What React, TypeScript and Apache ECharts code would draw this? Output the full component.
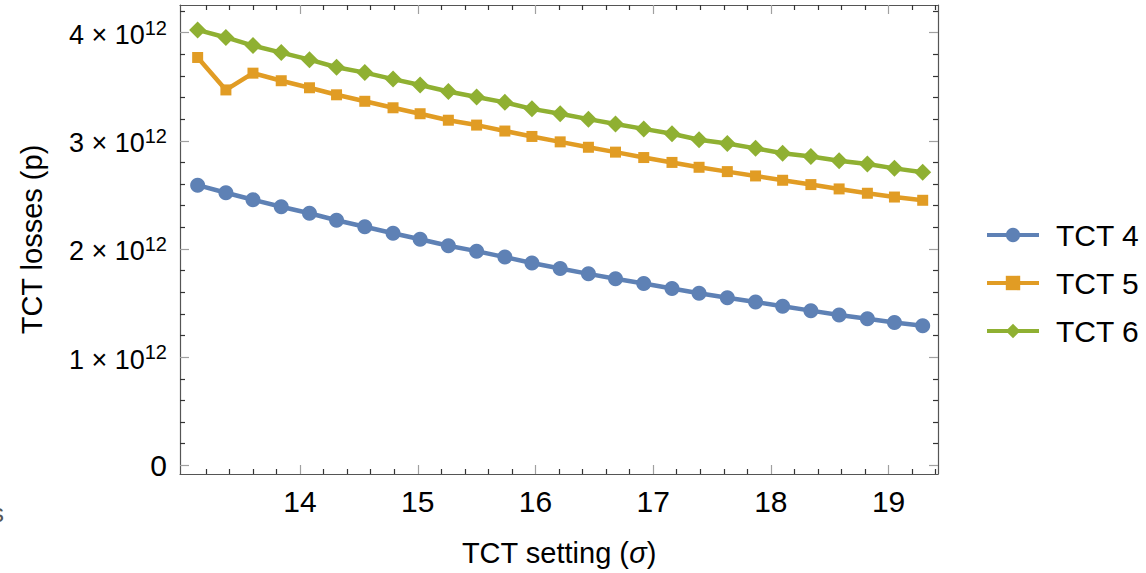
import React, { useEffect, useRef } from "react";
import * as echarts from "echarts";

const xValues = [13.13, 13.37, 13.6, 13.84, 14.08, 14.31, 14.55, 14.79, 15.02, 15.26, 15.5, 15.74, 15.97, 16.21, 16.45, 16.68, 16.92, 17.16, 17.39, 17.63, 17.87, 18.1, 18.34, 18.58, 18.82, 19.05, 19.29];
const tct4 = [2.59e12, 2.52e12, 2.455e12, 2.39e12, 2.33e12, 2.265e12, 2.205e12, 2.145e12, 2.09e12, 2.03e12, 1.98e12, 1.925e12, 1.87e12, 1.82e12, 1.77e12, 1.725e12, 1.68e12, 1.635e12, 1.59e12, 1.55e12, 1.51e12, 1.47e12, 1.43e12, 1.39e12, 1.355e12, 1.32e12, 1.29e12];
const tct5 = [3.77e12, 3.47e12, 3.625e12, 3.555e12, 3.49e12, 3.425e12, 3.365e12, 3.305e12, 3.25e12, 3.19e12, 3.145e12, 3.09e12, 3.04e12, 2.99e12, 2.94e12, 2.895e12, 2.845e12, 2.8e12, 2.755e12, 2.715e12, 2.675e12, 2.635e12, 2.595e12, 2.555e12, 2.515e12, 2.48e12, 2.45e12];
const tct6 = [4.025e12, 3.955e12, 3.88e12, 3.815e12, 3.75e12, 3.68e12, 3.63e12, 3.57e12, 3.515e12, 3.455e12, 3.405e12, 3.355e12, 3.295e12, 3.25e12, 3.2e12, 3.155e12, 3.11e12, 3.065e12, 3.01e12, 2.975e12, 2.93e12, 2.885e12, 2.855e12, 2.815e12, 2.785e12, 2.745e12, 2.71e12];
const seriesNames = ["TCT 4", "TCT 5", "TCT 6"];
const xMajorTicks = [14, 15, 16, 17, 18, 19];
const yMajorTicks = [0, 1e12, 2e12, 3e12, 4e12];

const X_MIN = 12.98;
const X_MAX = 19.42;
const Y_MIN = -0.08e12;
const Y_MAX = 4.255e12;

const FONT = "'Liberation Sans', Arial, Helvetica, sans-serif";

function minorList(from: number, to: number, step: number, scale: number) {
  const out: number[] = [];
  const n = Math.round((to - from) / step);
  for (let i = 0; i <= n; i++) {
    const v = Math.round((from + i * step) * 1000) / 1000;
    if (Math.abs(v - Math.round(v)) > 1e-6) out.push(v * scale);
  }
  return out;
}

export default function App() {
  const ref = useRef<HTMLDivElement>(null);
  useEffect(() => {
    if (!ref.current) return;
    const chart = echarts.init(ref.current, null, { renderer: "svg" });
    const xMinor = minorList(13, 19.4, 0.2, 1);
    const yMinor = minorList(0.2, 4.2, 0.2, 1e12);
    const frameColor = "#555555";
    const majorTickColor = "#a0a0a0";
    const minorTickColor = "#333333";

    const xAxisBase = { type: "value", min: X_MIN, max: X_MAX, splitLine: { show: false } };
    const yAxisBase = { type: "value", min: Y_MIN, max: Y_MAX, splitLine: { show: false } };

    const makeX = (position: string, major: boolean, showLine: boolean, showLabel: boolean) => ({
      ...xAxisBase,
      position,
      axisLine: { show: showLine, onZero: false, lineStyle: { color: frameColor, width: 1.2 } },
      axisTick: {
        show: true,
        inside: true,
        length: major ? 9 : 5,
        customValues: major ? xMajorTicks : xMinor,
        lineStyle: { color: major ? majorTickColor : minorTickColor, width: 1.2 },
      },
      axisLabel: showLabel
        ? { show: true, customValues: xMajorTicks, fontSize: 30, color: "#000", fontFamily: FONT, margin: 12 }
        : { show: false },
    });
    const makeY = (position: string, major: boolean, showLine: boolean, showLabel: boolean) => ({
      ...yAxisBase,
      position,
      axisLine: { show: showLine, onZero: false, lineStyle: { color: frameColor, width: 1.2 } },
      axisTick: {
        show: true,
        inside: true,
        length: major ? 9 : 5,
        customValues: major ? yMajorTicks : yMinor,
        lineStyle: { color: major ? majorTickColor : minorTickColor, width: 1.2 },
      },
      axisLabel: showLabel
        ? {
            show: true,
            customValues: yMajorTicks,
            margin: 13,
            fontFamily: FONT,
            color: "#000",
            formatter: (v: number) => {
              if (Math.abs(v) < 1) return "{z|0}";
              const m = Math.round(v / 1e12);
              return "{b|" + m + " × 10}{s|12}";
            },
            rich: {
              z: { fontSize: 30, fontFamily: FONT, color: "#000" },
              b: { fontSize: 27, fontFamily: FONT, color: "#000", verticalAlign: "bottom", lineHeight: 32 },
              s: { fontSize: 20, fontFamily: FONT, color: "#000", verticalAlign: "bottom", lineHeight: 32, padding: [0, 0, 11, 0] },
            },
          }
        : { show: false },
    });

    const xAxes: any[] = [
      {
        ...makeX("bottom", true, true, true),
        name: "{t|TCT setting (}{i|σ}{t|)}",
        nameLocation: "middle",
        nameGap: 64,
        nameTextStyle: {
          fontSize: 29,
          color: "#000",
          fontFamily: FONT,
          rich: {
            t: { fontSize: 29, color: "#000", fontFamily: FONT },
            i: { fontSize: 29, color: "#000", fontFamily: FONT, fontStyle: "italic" },
          },
        },
      },
      makeX("bottom", false, false, false),
      makeX("top", true, true, false),
      makeX("top", false, false, false),
    ];
    const yAxes: any[] = [
      {
        ...makeY("left", true, true, true),
        name: "TCT losses (p)",
        nameLocation: "middle",
        nameGap: 134,
        nameTextStyle: { fontSize: 29, color: "#000", fontFamily: FONT },
      },
      makeY("left", false, false, false),
      makeY("right", true, true, false),
      makeY("right", false, false, false),
    ];

    const colors = ["#5E81B5", "#E19C24", "#8FB032"];
    const datasets = [tct4, tct5, tct6];
    const symbols = ["circle", "rect", "diamond"];
    const sizes = [15, 11, 17];

    chart.setOption({
      animation: false,
      color: colors,
      grid: { left: 180, right: 208, top: 5, bottom: 99, containLabel: false, outerBoundsMode: "none" },
      xAxis: xAxes,
      yAxis: yAxes,
      legend: {
        data: seriesNames,
        orient: "vertical",
        left: 980,
        top: 215,
        itemWidth: 52,
        itemHeight: 18,
        itemGap: 18,
        lineStyle: { width: 4 },
        textStyle: { fontSize: 30, color: "#000", fontFamily: FONT, padding: [0, 0, 0, 12] },
      },
      graphic: [
        { type: "text", left: -9, top: 500, style: { text: "s", fontSize: 26, fill: "#555", fontFamily: FONT } },
      ],
      series: datasets.map((d, i) => ({
        name: seriesNames[i],
        type: "line",
        xAxisIndex: 0,
        yAxisIndex: 0,
        data: d.map((v, j) => [xValues[j], v]),
        symbol: symbols[i],
        symbolSize: sizes[i],
        lineStyle: { width: 4.5, color: colors[i] },
        itemStyle: { color: colors[i] },
        emphasis: { disabled: true },
      })),
    });
    return () => chart.dispose();
  }, []);
  return <div ref={ref} style={{ position: "absolute", left: 0, top: 0, width: 1146, height: 573 }} />;
}
